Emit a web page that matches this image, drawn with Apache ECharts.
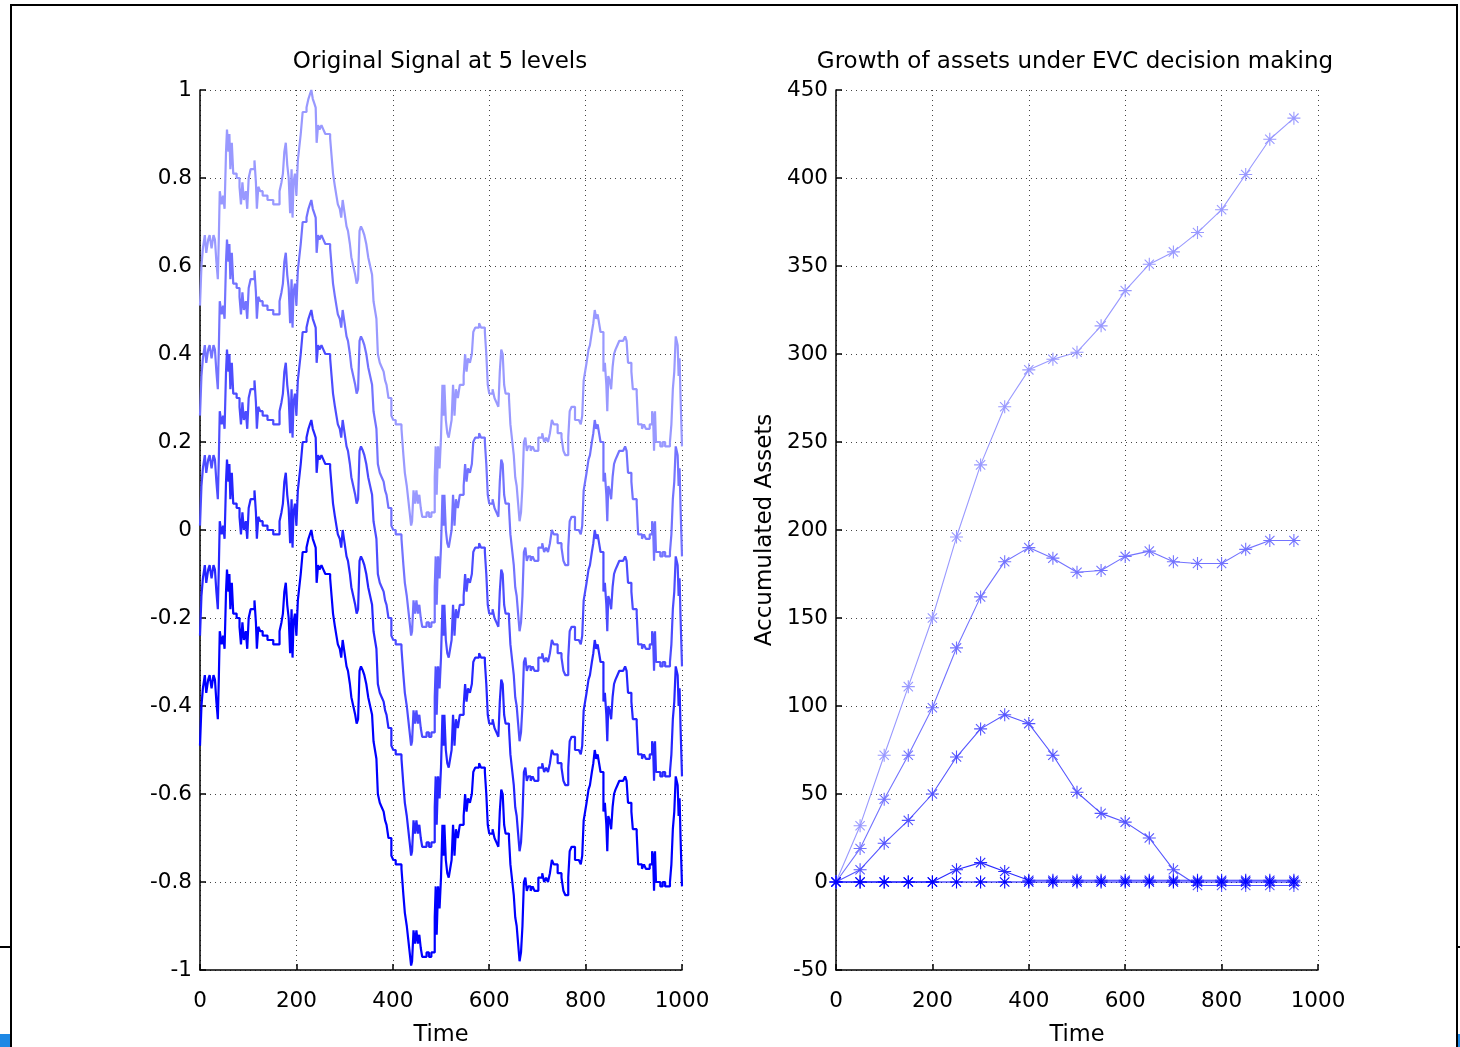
<!DOCTYPE html>
<html>
<head>
<meta charset="utf-8">
<script src="https://cdn.jsdelivr.net/npm/echarts@6/dist/echarts.min.js"></script>
<style>
html,body{margin:0;padding:0;background:#fff;}
#chart{width:1460px;height:1047px;}
</style>
</head>
<body>
<div id="chart"></div>
<script>
// ---- Left panel: signal (top level) ----
const signalTime = [0,3,6,10,13,17,20,24,28,31,34,37,39,41,45,48,51,54,56,59,61,63,66,69,72,76,79,82,85,88,91,95,98,101,105,109,113,116,118,121,125,130,135,140,146,152,158,162,165,169,172,175,178,181,184,187,190,192,194,197,200,203,206,209,213,217,221,225,228,231,234,237,240,242,245,248,252,256,260,265,270,273,276,280,283,286,290,293,296,300,304,307,311,314,318,322,325,328,331,334,338,341,345,349,353,357,360,363,366,369,373,377,381,384,387,391,394,397,401,406,411,415,418,422,425,429,432,435,438,440,443,446,449,452,455,458,461,465,470,475,480,484,487,489,491,494,497,500,503,505,507,510,513,516,519,522,525,528,531,535,539,543,547,550,553,556,560,564,567,571,575,579,583,587,591,594,597,600,603,607,611,615,619,622,625,628,631,634,637,641,644,648,651,654,657,660,663,666,669,672,675,678,681,686,690,694,698,702,706,710,714,718,722,726,730,734,738,742,746,750,754,758,761,764,767,771,774,778,782,786,790,793,796,799,802,806,809,813,816,819,822,825,828,831,834,837,840,843,845,847,850,853,856,859,862,866,870,874,878,882,885,888,892,895,898,902,906,909,913,917,921,925,929,933,936,938,940,942,944,946,950,955,960,965,970,975,978,981,984,987,989,991,993,995,997,1000];
const signalTop = [0.51,0.60,0.64,0.67,0.63,0.66,0.67,0.64,0.67,0.66,0.61,0.57,0.66,0.77,0.74,0.76,0.73,0.86,0.91,0.86,0.90,0.82,0.88,0.81,0.81,0.80,0.80,0.78,0.74,0.79,0.75,0.77,0.73,0.80,0.82,0.82,0.84,0.79,0.73,0.78,0.77,0.76,0.76,0.75,0.75,0.74,0.74,0.74,0.77,0.79,0.81,0.86,0.88,0.83,0.80,0.72,0.82,0.71,0.79,0.81,0.76,0.84,0.87,0.90,0.95,0.95,0.96,0.98,0.99,1.00,0.98,0.97,0.96,0.88,0.92,0.91,0.92,0.91,0.90,0.90,0.89,0.85,0.81,0.78,0.76,0.74,0.73,0.71,0.75,0.72,0.69,0.68,0.65,0.62,0.60,0.58,0.56,0.57,0.68,0.69,0.68,0.67,0.65,0.62,0.60,0.58,0.52,0.50,0.48,0.40,0.38,0.37,0.36,0.34,0.33,0.30,0.30,0.26,0.25,0.24,0.24,0.24,0.23,0.17,0.13,0.10,0.07,0.04,0.01,0.02,0.09,0.06,0.09,0.06,0.08,0.05,0.03,0.03,0.04,0.03,0.04,0.04,0.12,0.19,0.08,0.19,0.14,0.21,0.33,0.26,0.33,0.25,0.22,0.21,0.23,0.25,0.33,0.26,0.32,0.30,0.33,0.33,0.35,0.40,0.36,0.39,0.38,0.40,0.45,0.46,0.46,0.47,0.46,0.46,0.45,0.40,0.33,0.31,0.31,0.32,0.30,0.29,0.28,0.36,0.41,0.40,0.33,0.31,0.31,0.30,0.24,0.20,0.17,0.12,0.10,0.06,0.02,0.04,0.10,0.20,0.21,0.18,0.19,0.18,0.19,0.18,0.18,0.21,0.21,0.22,0.20,0.21,0.20,0.22,0.25,0.24,0.24,0.22,0.22,0.21,0.18,0.17,0.17,0.21,0.27,0.28,0.28,0.25,0.25,0.25,0.24,0.26,0.34,0.36,0.38,0.41,0.42,0.45,0.47,0.50,0.48,0.49,0.47,0.45,0.45,0.36,0.38,0.33,0.27,0.35,0.34,0.32,0.37,0.40,0.41,0.42,0.43,0.43,0.43,0.44,0.43,0.38,0.38,0.36,0.32,0.32,0.31,0.24,0.24,0.23,0.24,0.23,0.23,0.24,0.24,0.27,0.26,0.18,0.27,0.20,0.20,0.19,0.20,0.19,0.19,0.20,0.24,0.32,0.36,0.44,0.44,0.42,0.35,0.39,0.30,0.19];
const levelShift = [0, -0.25, -0.5, -0.75, -1.0];
const levelColors = ['#9999ff', '#7373ff', '#4d4dff', '#2626ff', '#0000ff'];

// ---- Right panel: accumulated assets ----
const assetTime = [0,50,100,150,200,250,300,350,400,450,500,550,600,650,700,750,800,850,900,950];
const assetsA = [0,32,72,111,150,196,237,270,291,297,301,316,336,351,358,369,382,402,422,434];
const assetsB = [0,19,47,72,99,133,162,182,190,184,176,177,185,188,182,181,181,189,194,194];
const assetsC = [0,7,22,35,50,71,87,95,90,72,51,39,34,25,7,-2,-2,-2,-2,-2];
const assetsD = [0,0,0,0,0,7,11,6,1,1,1,1,1,1,1,1,1,1,1,1];
const assetsE = [0,0,0,0,0,0,0,0,0,0,0,0,0,0,0,0,0,0,0,0];
const assetColors = ['#9999ff', '#7373ff', '#5555ff', '#2a2aff', '#0000ff'];

const FONT = '"DejaVu Sans", Verdana, sans-serif';
const star = 'path://M0,-6L0,6M-6,0L6,0M-4.3,-4.3L4.3,4.3M-4.3,4.3L4.3,-4.3';

const chart = echarts.init(document.getElementById('chart'), null, {renderer: 'canvas'});

function axisCommon(extra) {
  return Object.assign({
    type: 'value',
    axisLine: {show: true, onZero: false, lineStyle: {color: '#000', width: 1.5}},
    axisTick: {show: true, inside: true, length: 6, lineStyle: {color: '#000', width: 1.5}},
    splitLine: {show: true, lineStyle: {color: '#444', width: 1, type: [1, 4]}}
  }, extra);
}
const nameStyle = {color: '#000', fontFamily: FONT, fontSize: 22.5};
const xLabel = {color: '#000', fontFamily: FONT, fontSize: 21.5, margin: 20, formatter: v => String(v)};

const series = [];
levelShift.forEach((sh, i) => {
  series.push({
    type: 'line', xAxisIndex: 0, yAxisIndex: 0,
    data: signalTime.map((t, k) => [t, +(signalTop[k] + sh).toFixed(3)]),
    step: 'end', symbol: 'none', silent: true,
    lineStyle: {color: levelColors[i], width: 2.2},
    z: 2 + i
  });
});
[assetsA, assetsB, assetsC, assetsD, assetsE].forEach((arr, i) => {
  series.push({
    type: 'line', xAxisIndex: 1, yAxisIndex: 1,
    data: assetTime.map((t, k) => [t, arr[k]]),
    symbol: star, symbolSize: 13, showSymbol: true, silent: true,
    itemStyle: {color: 'rgba(0,0,0,0)', borderColor: assetColors[i], borderWidth: 1.1},
    lineStyle: {color: assetColors[i], width: 1.1},
    z: 2 + i
  });
});

const option = {
  backgroundColor: '#fff',
  animation: false,
  grid: [
    {left: 200, top: 90, width: 482, height: 880, outerBoundsMode: 'none', containLabel: false},
    {left: 836, top: 90, width: 482, height: 880, outerBoundsMode: 'none', containLabel: false}
  ],
  xAxis: [
    axisCommon({gridIndex: 0, min: 0, max: 1000, interval: 200,
      name: 'Time', nameLocation: 'middle', nameGap: 54, nameTextStyle: nameStyle, axisLabel: xLabel}),
    axisCommon({gridIndex: 1, min: 0, max: 1000, interval: 200,
      name: 'Time', nameLocation: 'middle', nameGap: 54, nameTextStyle: nameStyle, axisLabel: xLabel})
  ],
  yAxis: [
    axisCommon({gridIndex: 0, min: -1, max: 1, interval: 0.2,
      axisLabel: {color: '#000', fontFamily: FONT, fontSize: 21.5, margin: 8, padding: [10, 0, 0, 0],
        formatter: v => String(Math.round(v * 10) / 10)}}),
    axisCommon({gridIndex: 1, min: -50, max: 450, interval: 50,
      name: 'Accumulated Assets', nameLocation: 'middle', nameGap: 59, nameRotate: 90,
      nameTextStyle: {color: '#000', fontFamily: FONT, fontSize: 23},
      axisLabel: {color: '#000', fontFamily: FONT, fontSize: 21.5, margin: 8, padding: [10, 0, 0, 0], formatter: v => String(v)}})
  ],
  graphic: [
    {type: 'rect', shape: {x: 11, y: 5, width: 1446, height: 1100}, style: {fill: 'none', stroke: '#000', lineWidth: 2}, silent: true},
    {type: 'line', shape: {x1: 0, y1: 947, x2: 11, y2: 947}, style: {stroke: '#000', lineWidth: 2}, silent: true},
    {type: 'line', shape: {x1: 1457, y1: 947, x2: 1460, y2: 947}, style: {stroke: '#000', lineWidth: 2}, silent: true},
    {type: 'rect', shape: {x: 0, y: 1034, width: 10, height: 13}, style: {fill: '#1e88e5'}, silent: true},
    {type: 'rect', shape: {x: 1458, y: 1034, width: 2, height: 13}, style: {fill: '#1e88e5'}, silent: true},
    {type: 'text', x: 440, y: 62, style: {text: 'Original Signal at 5 levels', fill: '#000', font: '23px ' + FONT, textAlign: 'center', textVerticalAlign: 'middle'}, silent: true},
    {type: 'text', x: 1075, y: 62, style: {text: 'Growth of assets under EVC decision making', fill: '#000', font: '23px ' + FONT, textAlign: 'center', textVerticalAlign: 'middle'}, silent: true}
  ],
  series: series
};
chart.setOption(option);
</script>
</body>
</html>
